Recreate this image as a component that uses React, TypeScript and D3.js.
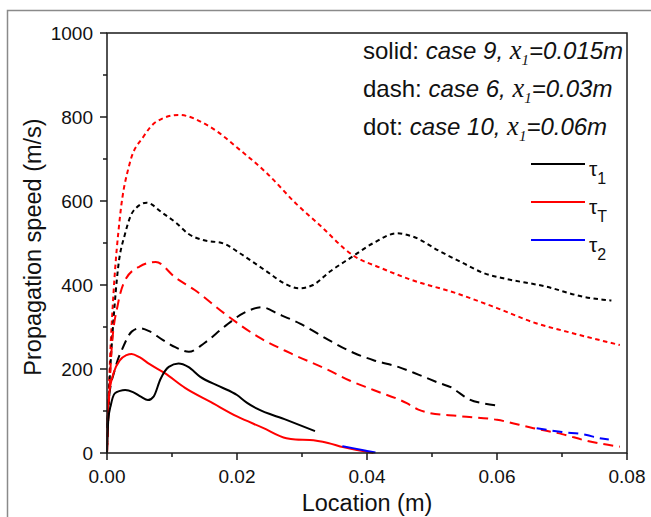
import React from "react";
import * as d3 from "d3";

// ---- data ----
const solidTau1X = [0, 0.0002, 0.0006, 0.0012, 0.002, 0.0028, 0.004, 0.0052, 0.0063, 0.0072, 0.0082, 0.0095, 0.011, 0.0125, 0.0143, 0.0174, 0.02, 0.0215, 0.023, 0.0276, 0.032];
const solidTau1Y = [0, 79, 115, 142, 148, 150, 145, 134, 126, 135, 175, 205, 213, 205, 182, 158, 138, 120, 106, 79, 52];

const solidTauTX = [0, 0.0002, 0.001, 0.002, 0.003, 0.0038, 0.005, 0.0065, 0.0089, 0.012, 0.016, 0.02, 0.024, 0.0276, 0.029, 0.0312, 0.034, 0.0363, 0.041];
const solidTauTY = [0, 126, 190, 221, 233, 236, 228, 212, 190, 155, 121, 87, 60, 35, 32, 31, 24, 14, 0];

const solidTau2X = [0.0362, 0.038, 0.04, 0.0413];
const solidTau2Y = [16, 11, 5, 1];

const dashTau1X = [0, 0.0003, 0.0012, 0.0025, 0.0038, 0.005, 0.0065, 0.0085, 0.0105, 0.0126, 0.015, 0.018, 0.021, 0.0238, 0.0265, 0.0297, 0.034, 0.038, 0.041, 0.0448, 0.048, 0.0512, 0.0531, 0.0543, 0.0558, 0.058, 0.0602];
const dashTau1Y = [60, 130, 198, 253, 289, 297, 290, 270, 252, 241, 262, 300, 333, 347, 330, 308, 270, 238, 221, 205, 186, 166, 155, 142, 127, 118, 113];

const dashTauTX = [0, 0.0007, 0.0017, 0.0028, 0.005, 0.0075, 0.0105, 0.0135, 0.018, 0.0232, 0.0283, 0.034, 0.0374, 0.041, 0.0462, 0.0478, 0.0494, 0.054, 0.06, 0.0656, 0.07, 0.0738, 0.0789];
const dashTauTY = [0, 245, 356, 412, 444, 455, 418, 388, 333, 277, 237, 198, 172, 150, 118, 104, 96, 88, 79, 59, 45, 29, 15];

const dashTau2X = [0.0661, 0.07, 0.0738, 0.0755, 0.0772];
const dashTau2Y = [59, 50, 43, 36, 32];

const dotTau1X = [0, 0.0005, 0.001, 0.0017, 0.0028, 0.004, 0.0061, 0.0085, 0.0107, 0.0125, 0.0148, 0.0179, 0.0205, 0.0246, 0.0275, 0.0295, 0.0317, 0.0343, 0.0374, 0.041, 0.0446, 0.0471, 0.051, 0.0548, 0.058, 0.061, 0.0676, 0.0733, 0.0763, 0.0776];
const dotTau1Y = [60, 200, 317, 440, 523, 575, 596, 572, 547, 522, 507, 499, 475, 432, 402, 392, 400, 432, 464, 500, 523, 515, 482, 452, 428, 416, 396, 372, 365, 363];

const dotTauTX = [0, 0.00046, 0.001, 0.002, 0.0035, 0.0056, 0.0076, 0.011, 0.0158, 0.0205, 0.0246, 0.0292, 0.0327, 0.0378, 0.0422, 0.0465, 0.0538, 0.06, 0.066, 0.0707, 0.0789];
const dotTauTY = [0, 221, 380, 563, 690, 753, 789, 805, 777, 721, 666, 592, 543, 471, 440, 414, 380, 345, 309, 289, 257];

const xTicks = [0, 0.02, 0.04, 0.06, 0.08];
const xTickLabels = ["0.00", "0.02", "0.04", "0.06", "0.08"];
const xMinor = [0.01, 0.03, 0.05, 0.07];
const yTicks = [0, 200, 400, 600, 800, 1000];
const yMinor = [100, 300, 500, 700, 900];

const BLACK = "#000000";
const RED = "#ff0000";
const BLUE = "#0000ff";

const zip = (xs: number[], ys: number[]) => xs.map((x, i) => [x, ys[i]] as [number, number]);

export default function App() {
  const x = d3.scaleLinear().domain([0, 0.08]).range([107, 627]);
  const y = d3.scaleLinear().domain([0, 1000]).range([453, 33]);
  const line = d3
    .line<[number, number]>()
    .x((d) => x(d[0]))
    .y((d) => y(d[1]))
    .curve(d3.curveMonotoneX);

  const DASH = "10,6";
  const DOT = "4.5,3.5";

  const series = [
    { xs: dotTauTX, ys: dotTauTY, c: RED, dash: DOT },
    { xs: dotTau1X, ys: dotTau1Y, c: BLACK, dash: DOT },
    { xs: dashTauTX, ys: dashTauTY, c: RED, dash: DASH },
    { xs: dashTau1X, ys: dashTau1Y, c: BLACK, dash: DASH },
    { xs: dashTau2X, ys: dashTau2Y, c: BLUE, dash: DASH },
    { xs: solidTauTX, ys: solidTauTY, c: RED, dash: undefined },
    { xs: solidTau1X, ys: solidTau1Y, c: BLACK, dash: undefined },
    { xs: solidTau2X, ys: solidTau2Y, c: BLUE, dash: undefined },
  ];

  const font = "Liberation Sans, Arial, sans-serif";
  const serif = "Liberation Serif, Times New Roman, serif";
  const axisColor = "#1a1a1a";

  const legendLines = [
    { c: BLACK, sub: "1", yy: 164 },
    { c: RED, sub: "T", yy: 202 },
    { c: BLUE, sub: "2", yy: 240 },
  ];

  const caseLines = [
    { a: "solid: ", b: "case 9, ", v: "=0.015m", yy: 59 },
    { a: "dash: ", b: "case 6, ", v: "=0.03m", yy: 97 },
    { a: "dot: ", b: "case 10, ", v: "=0.06m", yy: 135 },
  ];

  return (
    <svg
      width={651}
      height={517}
      style={{ position: "absolute", left: 0, top: 0, background: "#fff" }}
      fontFamily={font}
    >
      <rect x={0} y={0} width={651} height={517} fill="#fff" />
      <rect x={7.5} y={10.5} width={700} height={600} fill="none" stroke="#8a8a8a" strokeWidth={1.5} />

      {/* curves */}
      <g fill="none" strokeWidth={2}>
        {series.map((s, i) => (
          <path key={i} d={line(zip(s.xs, s.ys)) || ""} stroke={s.c} strokeDasharray={s.dash} />
        ))}
      </g>

      {/* frame */}
      <rect x={107} y={33} width={520} height={420} fill="none" stroke={axisColor} strokeWidth={1.5} />

      {/* x ticks */}
      {xTicks.map((t, i) => (
        <g key={"xt" + i}>
          <line x1={x(t)} x2={x(t)} y1={453} y2={460} stroke={axisColor} strokeWidth={1.5} />
          <text x={x(t)} y={483} fontSize={19} textAnchor="middle" fill="#111">
            {xTickLabels[i]}
          </text>
        </g>
      ))}
      {xMinor.map((t, i) => (
        <line key={"xm" + i} x1={x(t)} x2={x(t)} y1={453} y2={457} stroke={axisColor} strokeWidth={1.5} />
      ))}
      {yTicks.map((t, i) => (
        <g key={"yt" + i}>
          <line x1={100} x2={107} y1={y(t)} y2={y(t)} stroke={axisColor} strokeWidth={1.5} />
          <text x={93} y={y(t) + 7} fontSize={19} textAnchor="end" fill="#111">
            {t}
          </text>
        </g>
      ))}
      {yMinor.map((t, i) => (
        <line key={"ym" + i} x1={103} x2={107} y1={y(t)} y2={y(t)} stroke={axisColor} strokeWidth={1.5} />
      ))}

      {/* axis titles */}
      <text x={367} y={511} fontSize={23.5} textAnchor="middle" fill="#111">
        Location (m)
      </text>
      <text
        transform="translate(41,247) rotate(-90)"
        fontSize={23.5}
        textAnchor="middle"
        fill="#111"
      >
        Propagation speed (m/s)
      </text>

      {/* case annotations */}
      {caseLines.map((l, i) => (
        <text key={"c" + i} x={363} y={l.yy} fontSize={24} fill="#111">
          <tspan>{l.a}</tspan>
          <tspan fontStyle="italic">{l.b}</tspan>
          <tspan fontStyle="italic" fontFamily={serif} fontSize={26.5}>
            x
          </tspan>
          <tspan fontStyle="italic" fontFamily={serif} fontSize={15} dy={6}>
            1
          </tspan>
          <tspan fontStyle="italic" dy={-6}>
            {l.v}
          </tspan>
        </text>
      ))}

      {/* legend */}
      {legendLines.map((l, i) => (
        <g key={"lg" + i}>
          <line x1={531} x2={585} y1={l.yy} y2={l.yy} stroke={l.c} strokeWidth={2} />
          <text x={589} y={l.yy + 12} fontSize={21} fill="#111">
            τ
            <tspan fontSize={16} dy={8}>
              {l.sub}
            </tspan>
          </text>
        </g>
      ))}
    </svg>
  );
}
